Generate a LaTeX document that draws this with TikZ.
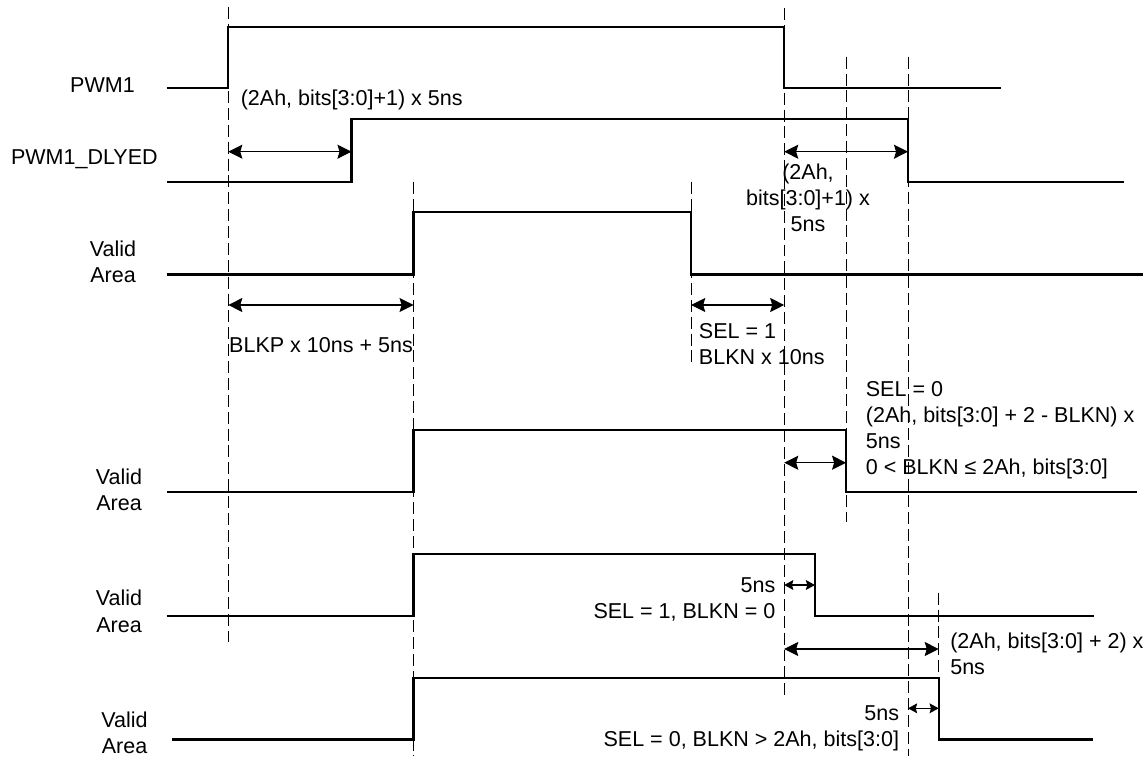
\documentclass[tikz,border=0pt]{standalone}
\usepackage{fontspec}
\setmainfont{Liberation Sans}
\usetikzlibrary{arrows.meta}

\begin{document}
\begin{tikzpicture}[x=0.025cm,y=-0.025cm,
	sig/.style={line width=1.7pt},
	guide/.style={line width=0.6pt,dash pattern=on 8.5pt off 3.5pt},
	span/.style={<->,>={Stealth[length=10pt,width=10pt,inset=1.5pt]},line width=0.8pt},
	short span/.style={<->,>={Stealth[length=6.5pt,width=7pt,inset=1pt]},line width=0.8pt},
	txt/.style={font=\fontsize{15.3}{18.5}\selectfont,inner sep=0pt}]
		\useasboundingbox (0,0) rectangle (1148,756);
		% signal names
		\node[txt,anchor=east] (pwm) at (135,85) {PWM1};
		\node[txt,anchor=east] (dly) at (158,159) {PWM1\_DLYED};
		\node[txt,align=center] (va1) at (113,262) {Valid\\Area};
		\node[txt,align=center] (va2) at (119,489.5) {Valid\\Area};
		\node[txt,align=center] (va3) at (119,611.3) {Valid\\Area};
		\node[txt,align=center] (va4) at (124.5,733) {Valid\\Area};
		%
		% waveforms
		\draw[sig] (166.5,88.3) -- (228.3,88.3) -- (228.3,26.7) -- (784.2,26.7) -- (784.2,88.3) -- (1001.3,88.3);
		\draw[sig] (166.5,181.7) -- (351.5,181.7) -- (351.5,119.3) -- (908,119.3) -- (908,181.7) -- (1124.3,181.7);
		\draw[sig] (166.5,274.3) -- (413.6,274.3) -- (413.6,212.3) -- (691.2,212.3) -- (691.2,274.3) -- (1143,274.3);
		\draw[sig] (166.5,491.7) -- (413.6,491.7) -- (413.6,430) -- (846.1,430) -- (846.1,491.7) -- (1137.4,491.7);
		\draw[sig] (166.5,615.7) -- (413.6,615.7) -- (413.6,554) -- (815,554) -- (815,615.7) -- (1094.3,615.7);
		\draw[sig] (172,739.3) -- (413.6,739.3) -- (413.6,677.7) -- (938.7,677.7) -- (938.7,739.3) -- (1093,739.3);
		%
		% guide lines
		\draw[guide] (228.3,6.7) -- (228.3,642.3);
		\draw[guide] (413.6,181.7) -- (413.6,756);
		\draw[guide] (691.2,181.7) -- (691.2,363);
		\draw[guide] (784.2,8.3) -- (784.2,698.3);
		\draw[guide] (846.1,56.7) -- (846.1,521.7);
		\draw[guide] (908,56.7) -- (908,756);
		\draw[guide] (938.7,592.7) -- (938.7,677.7);
		%
		% arrow ends
		\coordinate (dlyA) at (228.3,151.7);
		\coordinate (dlyB) at (351.5,151.7);
		\coordinate (dlyC) at (784.2,151.7);
		\coordinate (dlyD) at (908,151.7);
		\coordinate (blkpA) at (228.3,305);
		\coordinate (blkpB) at (413.6,305);
		\coordinate (blknA) at (691.2,305);
		\coordinate (blknB) at (784.2,305);
		\coordinate (selA) at (784.2,462.7);
		\coordinate (selB) at (846.1,462.7);
		\coordinate (fiveA) at (784.2,585);
		\coordinate (fiveB) at (815,585);
		\coordinate (longA) at (784.2,649);
		\coordinate (longB) at (938.7,649);
		\coordinate (lastA) at (908,708.3);
		\coordinate (lastB) at (938.7,708.3);
		%
		\path[span]
		(dlyA) edge (dlyB)
		(dlyC) edge (dlyD)
		(blkpA) edge (blkpB)
		(blknA) edge (blknB)
		(selA) edge (selB)
		(longA) edge (longB);
		\path[short span]
		(fiveA) edge (fiveB)
		(lastA) edge (lastB);
		%
		% timing labels
		\node[txt,anchor=west] (t1) at (240.5,100) {(2Ah, bits[3:0]+1) x 5ns};
		\node[txt,align=center] (t2) at (808,198) {(2Ah,\\bits[3:0]+1) x\\5ns};
		\node[txt] (t3) at (321,345) {BLKP x 10ns + 5ns};
		\node[txt,align=left,anchor=west] (t4) at (698.7,344.5) {SEL = 1\\BLKN x 10ns};
		\node[txt,align=left,anchor=west] (t5) at (865.6,430.4) {SEL = 0\\(2Ah, bits[3:0] + 2 - BLKN) x\\5ns\\0 < BLKN ≤ 2Ah, bits[3:0]};
		\node[txt,align=right,anchor=east] (t6) at (775.6,599) {5ns\\SEL = 1, BLKN = 0};
		\node[txt,align=left,anchor=west] (t7) at (950,654) {(2Ah, bits[3:0] + 2) x\\5ns};
		\node[txt,align=right,anchor=east] (t8) at (899.3,728) {5ns\\SEL = 0, BLKN > 2Ah, bits[3:0]};
\end{tikzpicture}
\end{document}
